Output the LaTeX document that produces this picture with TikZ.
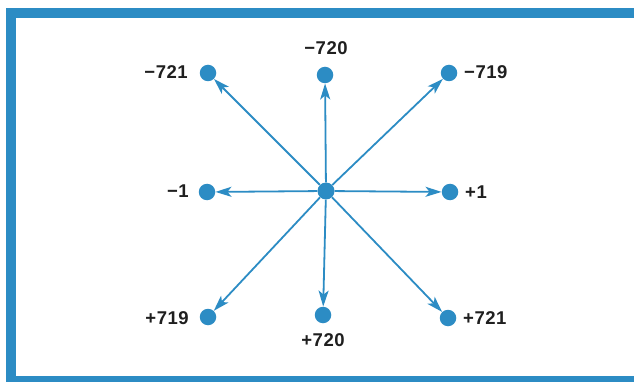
\documentclass[tikz,border=0pt]{standalone}
\usepackage{fontspec}
\setmainfont{Liberation Sans}
\usetikzlibrary{arrows.meta}
\definecolor{hpblue}{RGB}{44,140,196}
\tikzset{
  dot/.style={circle,fill=hpblue,draw=none,inner sep=0pt,minimum size=16.5pt},
  hub/.style={circle,fill=hpblue,draw=none,inner sep=0pt,minimum size=17pt},
  arr/.style={draw=hpblue,line width=1.8pt,-{Stealth[length=16pt,width=10pt,inset=4pt]}},
  lab/.style={inner sep=0pt,font=\fontsize{18.5}{20}\selectfont\bfseries\addfontfeatures{LetterSpace=3},text=black!88}
}
\begin{document}
\begin{tikzpicture}[x=1pt,y=-1pt]
\useasboundingbox (0,0) rectangle (634,382);
\fill[white] (0,0) rectangle (634,382);
% frame
\fill[hpblue] (6,8.5) rectangle (16,382);
\fill[hpblue] (6,8.5) rectangle (634,18.5);
\fill[hpblue] (6,376) rectangle (634,382);
% nodes
\node[hub] (c) at (326,191) {};
\node[dot] (nw) at (208,73) {};
\node[dot] (n)  at (325,75) {};
\node[dot] (ne) at (449,73) {};
\node[dot] (w)  at (207,192) {};
\node[dot] (e)  at (450,192) {};
\node[dot] (sw) at (208,317) {};
\node[dot] (s)  at (323,315) {};
\node[dot] (se) at (448,318) {};
% labels
\node[lab,anchor=east] (lnw) at (188,72) {−721};
\node[lab] (ln) at (326,48) {−720};
\node[lab,anchor=west] (lne) at (464,72) {−719};
\node[lab,anchor=east] (lw) at (189,191) {−1};
\node[lab,anchor=west] (le) at (465,192) {+1};
\node[lab,anchor=east] (lsw) at (189,318) {+719};
\node[lab] (ls) at (323,340) {+720};
\node[lab,anchor=west] (lse) at (463,318) {+721};
% arrows
\foreach \t in {nw,n,ne,w,e,sw,s,se}{
  \draw[arr] (c) -- (\t);
}
\end{tikzpicture}
\end{document}
